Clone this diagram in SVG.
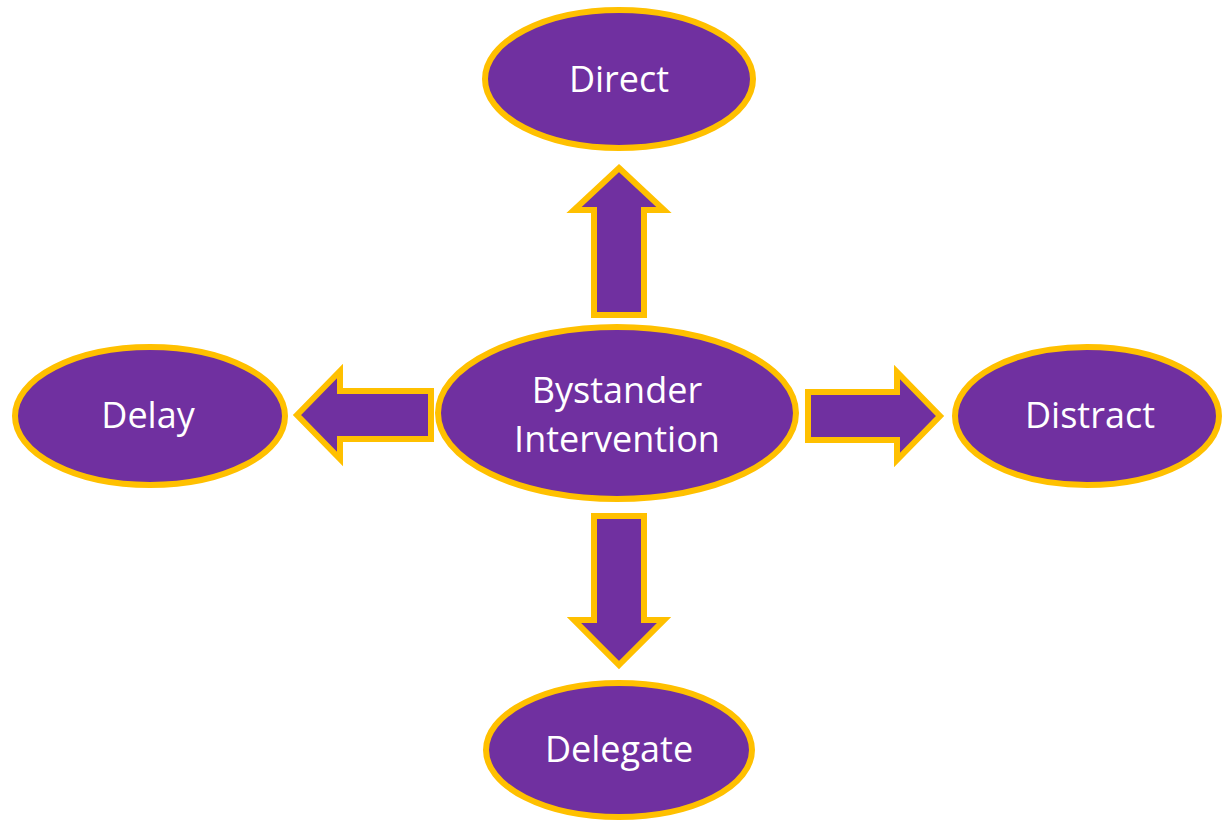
<svg xmlns="http://www.w3.org/2000/svg" width="1222" height="823" viewBox="0 0 1222 823">
<style>
.n{fill:#7030A0;stroke:#FFC000;stroke-width:6}
.a{fill:#7030A0;stroke:#FFC000;stroke-width:6;stroke-linejoin:miter}
.t{fill:#FFFFFF;font-family:"Open Sans","Liberation Sans",sans-serif;font-size:36px;text-anchor:middle}
</style>
<rect width="1222" height="823" fill="#FFFFFF"/>
<g id="connectors">
<polygon class="a" points="619,168 664,210 644,210 644,315 594,315 594,210 574,210"/>
<polygon class="a" points="619,665 664,620 644,620 644,516 594,516 594,620 574,620"/>
<polygon class="a" points="297,415 340,371 340,391 431,391 431,439 340,439 340,459"/>
<polygon class="a" points="940,416 897,372 897,392 808,392 808,440 897,440 897,460"/>
</g>
<g id="center">
<ellipse class="n" cx="617" cy="413" rx="179" ry="86"/>
<text class="t" x="617" y="403">Bystander</text>
<text class="t" x="617" y="452">Intervention</text>
</g>
<g id="direct">
<ellipse class="n" cx="619" cy="79" rx="134" ry="69"/>
<text class="t" x="619" y="92">Direct</text>
</g>
<g id="delay">
<ellipse class="n" cx="150" cy="416" rx="135" ry="69"/>
<text class="t" x="148" y="428">Delay</text>
</g>
<g id="distract">
<ellipse class="n" cx="1087" cy="416" rx="132" ry="69"/>
<text class="t" x="1090" y="428">Distract</text>
</g>
<g id="delegate">
<ellipse class="n" cx="619" cy="750" rx="133" ry="67"/>
<text class="t" x="619" y="762">Delegate</text>
</g>
</svg>
